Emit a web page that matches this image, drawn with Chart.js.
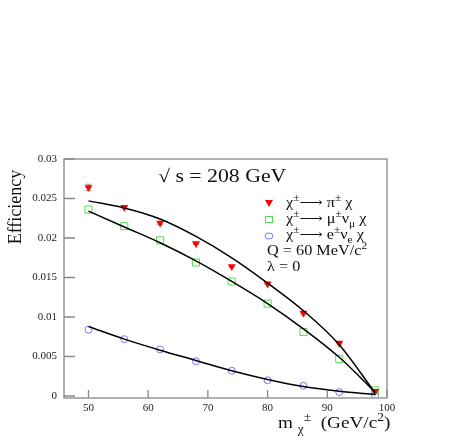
<!DOCTYPE html>
<html>
<head>
<meta charset="utf-8">
<script src="https://cdn.jsdelivr.net/npm/chart.js@4/dist/chart.umd.min.js"></script>
<style>
  body { margin: 0; background: white; }
  #wrap { width: 463px; height: 447px; }
</style>
</head>
<body>
<div id="wrap"><canvas id="eff-chart" width="463" height="447"></canvas></div>
<script>
// 질량 (GeV/c^2)
let masses = [50, 56, 62, 68, 74, 80, 86, 92, 98];

// 측정 효율
let pion_eff = [0.0264, 0.0239, 0.0219, 0.0193, 0.0164, 0.0142, 0.0105, 0.0067, 0.0006];
let pion_err = [0.0004, 0.0002, 0.0002, 0.0001, 0.0001, 0.0001, 0.0001, 0.0001, 0.0001];
let muon_eff = [0.0236, 0.0215, 0.0197, 0.0169, 0.0145, 0.0117, 0.0081, 0.0047, 0.0007];
let elec_eff = [0.0084, 0.0072, 0.0059, 0.0044, 0.0032, 0.0020, 0.0013, 0.0005, 0.0001];

// fit 곡선
let pion_fit = [0.0247, 0.0238, 0.0224, 0.0202, 0.0175, 0.0143, 0.0108, 0.0065, 0.0004];
let muon_fit = [0.0234, 0.0214, 0.0194, 0.0171, 0.0145, 0.0117, 0.0085, 0.0049, 0.0005];
let elec_fit = [0.0088, 0.0072, 0.0058, 0.0045, 0.0032, 0.0021, 0.0012, 0.0006, 0.0002];

let x_ticks = [50, 60, 70, 80, 90, 100];
let y_ticks = [0, 0.005, 0.01, 0.015, 0.02, 0.025, 0.03];

let serif = '"Liberation Serif", "DejaVu Serif", serif';

function pts(ys) {
  return masses.map((m, i) => ({ x: m, y: ys[i] }));
}

// 위첨자/아래첨자 있는 글씨 (h = 가로 늘림)
function richText(ctx, parts, x, y, size, h) {
  ctx.save();
  ctx.translate(x, y);
  ctx.scale(h || 1, 1);
  let cx = 0;
  parts.forEach(p => {
    let s = size, dy = 0;
    if (p[1] == 'sup') { s = size * 0.7; dy = -size * 0.42; }
    if (p[1] == 'sub') { s = size * 0.7; dy = size * 0.28; }
    ctx.font = s + 'px ' + serif;
    ctx.fillText(p[0], cx, dy);
    cx += ctx.measureText(p[0]).width;
  });
  ctx.restore();
}

const extras = {
  id: 'extras',
  beforeDatasetsDraw(chart) {
    // 에러바
    const ctx = chart.ctx, xs = chart.scales.x, ys = chart.scales.y;
    ctx.save();
    ctx.strokeStyle = '#999';
    ctx.lineWidth = 1;
    masses.forEach((m, i) => {
      let px = xs.getPixelForValue(m);
      let y1 = ys.getPixelForValue(pion_eff[i] - pion_err[i]);
      let y2 = ys.getPixelForValue(pion_eff[i] + pion_err[i]);
      ctx.beginPath();
      ctx.moveTo(px, y1); ctx.lineTo(px, y2);
      ctx.moveTo(px - 3, y1); ctx.lineTo(px + 3, y1);
      ctx.moveTo(px - 3, y2); ctx.lineTo(px + 3, y2);
      ctx.stroke();
    });
    ctx.restore();
  },
  afterDraw(chart) {
    const ctx = chart.ctx, a = chart.chartArea;
    const xs = chart.scales.x, ys = chart.scales.y;
    ctx.save();
    // 테두리
    ctx.strokeStyle = '#888';
    ctx.lineWidth = 1.3;
    ctx.strokeRect(a.left, a.top, a.right - a.left, a.bottom - a.top);
    // 안쪽 눈금
    ctx.beginPath();
    y_ticks.forEach(v => {
      let py = ys.getPixelForValue(v);
      ctx.moveTo(a.left, py); ctx.lineTo(a.left + 11, py);
    });
    x_ticks.forEach(v => {
      let px = xs.getPixelForValue(v);
      ctx.moveTo(px, a.bottom); ctx.lineTo(px, a.bottom - 8);
    });
    ctx.stroke();

    ctx.fillStyle = '#111';
    ctx.textBaseline = 'alphabetic';
    ctx.textAlign = 'left';

    // 제목
    richText(ctx, [['\u221A s = 208 GeV', 'n']], 158, 182, 18, 1.21);

    // 범례
    ctx.fillStyle = '#ff0000';
    ctx.beginPath();
    ctx.moveTo(265, 200); ctx.lineTo(273, 200); ctx.lineTo(269, 207); ctx.closePath();
    ctx.fill();
    ctx.strokeStyle = '#55dd55';
    ctx.lineWidth = 1;
    ctx.strokeRect(265.5, 216.5, 7, 6);
    ctx.strokeStyle = '#7777ff';
    ctx.beginPath();
    ctx.ellipse(269, 236, 4, 3, 0, 0, Math.PI * 2);
    ctx.stroke();

    ctx.fillStyle = '#111';
    let arrow = '\u27F6 ';
    richText(ctx, [['\u03C7','n'],['\u00B1','sup'],[arrow + '\u03C0','n'],['\u00B1','sup'],[' \u03C7','n']], 286, 207, 14, 1.16);
    richText(ctx, [['\u03C7','n'],['\u00B1','sup'],[arrow + '\u03BC','n'],['\u00B1','sup'],['\u03BD','n'],['\u03BC','sub'],[' \u03C7','n']], 286, 223, 14, 1.16);
    richText(ctx, [['\u03C7','n'],['\u00B1','sup'],[arrow + 'e','n'],['\u00B1','sup'],['\u03BD','n'],['e','sub'],[' \u03C7','n']], 286, 239, 14, 1.16);
    richText(ctx, [['Q = 60 MeV/c','n'],['2','sup']], 267, 255, 14, 1.16);
    richText(ctx, [['\u03BB = 0','n']], 267, 271, 14, 1.16);

    // x축 제목
    richText(ctx, [['m ','n'],['\u03C7','sub'],['\u00B1','sup'],['  (GeV/c','n'],['2','sup'],[')','n']], 278, 428, 17, 1.13);

    // y축 제목
    ctx.translate(21, 207);
    ctx.rotate(-Math.PI / 2);
    ctx.textAlign = 'center';
    ctx.font = '18px ' + serif;
    ctx.fillText('Efficiency', 0, 0);
    ctx.restore();
  }
};

let my_datasets = [
  { type: 'line', data: pts(pion_fit), borderColor: '#000', borderWidth: 1.5, pointRadius: 0, tension: 0.4, cubicInterpolationMode: 'monotone' },
  { type: 'line', data: pts(muon_fit), borderColor: '#000', borderWidth: 1.5, pointRadius: 0, tension: 0.4, cubicInterpolationMode: 'monotone' },
  { type: 'line', data: pts(elec_fit), borderColor: '#000', borderWidth: 1.5, pointRadius: 0, tension: 0.4, cubicInterpolationMode: 'monotone' },
  { data: pts(pion_eff), pointStyle: 'triangle', rotation: 180, radius: 4.6, backgroundColor: '#ff0000', borderColor: '#ff0000', borderWidth: 0 },
  { data: pts(muon_eff), pointStyle: 'rect', radius: 5, backgroundColor: 'rgba(0,0,0,0)', borderColor: '#55dd55', borderWidth: 1 },
  { data: pts(elec_eff), pointStyle: 'circle', radius: 3.5, backgroundColor: 'rgba(0,0,0,0)', borderColor: '#7777ff', borderWidth: 1 }
];

let myChart = new Chart(document.getElementById('eff-chart').getContext('2d'), {
  type: 'scatter',
  data: { datasets: my_datasets },
  options: {
    responsive: false,
    animation: false,
    layout: { padding: { top: 159, right: 76, left: 0, bottom: 0 } },
    plugins: { legend: { display: false }, tooltip: { enabled: false } },
    scales: {
      x: {
        type: 'linear', min: 45.9, max: 100,
        afterFit: s => { s.height = 49; },
        afterBuildTicks: s => { s.ticks = x_ticks.map(v => ({ value: v })); },
        grid: { display: false, drawTicks: false },
        border: { display: false },
        ticks: { padding: 4, color: '#222', font: { family: serif, size: 11 } }
      },
      y: {
        type: 'linear', min: -0.00025, max: 0.03,
        afterFit: s => { s.width = 64; },
        afterBuildTicks: s => { s.ticks = y_ticks.map(v => ({ value: v })); },
        grid: { display: false, drawTicks: false },
        border: { display: false },
        ticks: { padding: 7, color: '#222', font: { family: serif, size: 11 },
          callback: v => String(v) }
      }
    }
  },
  plugins: [extras]
});
</script>
</body>
</html>
